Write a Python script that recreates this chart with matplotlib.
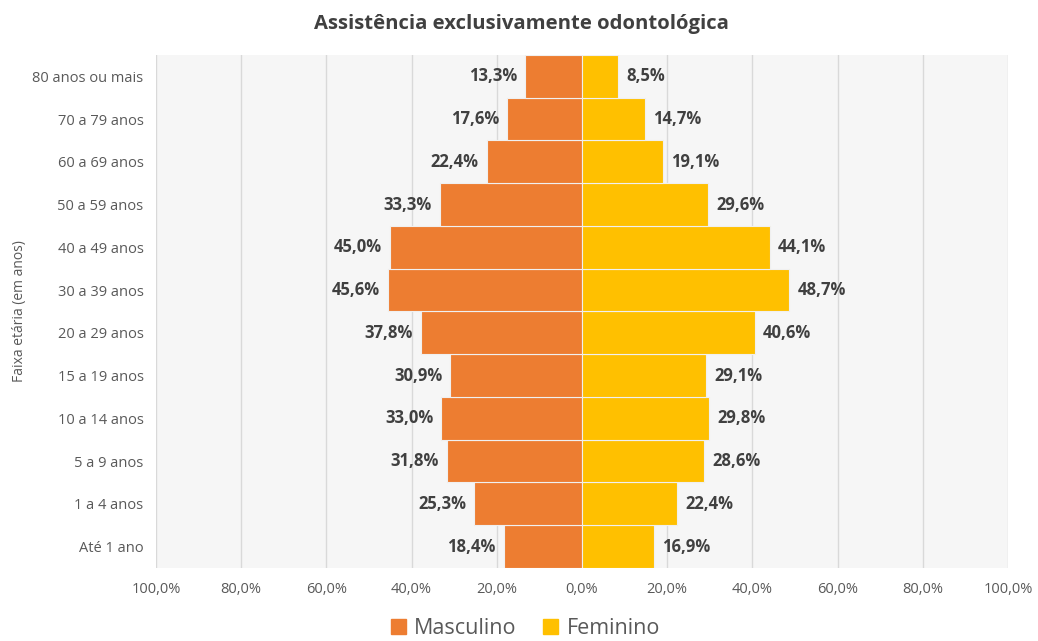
import matplotlib.pyplot as plt
import numpy as np
from matplotlib.patches import Patch

plt.rcParams['font.family'] = ['Open Sans', 'DejaVu Sans']

faixas = ['Até 1 ano', '1 a 4 anos', '5 a 9 anos', '10 a 14 anos', '15 a 19 anos',
          '20 a 29 anos', '30 a 39 anos', '40 a 49 anos', '50 a 59 anos',
          '60 a 69 anos', '70 a 79 anos', '80 anos ou mais']
masculino = [18.4, 25.3, 31.8, 33.0, 30.9, 37.8, 45.6, 45.0, 33.3, 22.4, 17.6, 13.3]
feminino = [16.9, 22.4, 28.6, 29.8, 29.1, 40.6, 48.7, 44.1, 29.6, 19.1, 14.7, 8.5]
xticks = [-100, -80, -60, -40, -20, 0, 20, 40, 60, 80, 100]

cor_m = '#ED7D31'
cor_f = '#FFC000'
cinza = '#595959'

def pct(v):
    return f'{abs(v):.1f}%'.replace('.', ',')

fig = plt.figure(figsize=(10.38, 6.41), dpi=100)
ax = fig.add_axes([0.1503, 0.1139, 0.8208, 0.8003])
ax.set_facecolor('#f6f6f6')

y = np.arange(len(faixas))
ax.barh(y, -np.array(masculino), height=1.0, color=cor_m, edgecolor='#f0f0f0', linewidth=0.8, zorder=3)
ax.barh(y, feminino, height=1.0, color=cor_f, edgecolor='#f0f0f0', linewidth=0.8, zorder=3)

for yi, m, f in zip(y, masculino, feminino):
    ax.text(-m - 1.9, yi, pct(m), ha='right', va='center', fontsize=12,
            fontweight='bold', color='#404040', zorder=4)
    ax.text(f + 1.9, yi, pct(f), ha='left', va='center', fontsize=12,
            fontweight='bold', color='#404040', zorder=4)

ax.set_xlim(-100, 100)
ax.set_ylim(-0.5, len(faixas) - 0.5)
ax.set_xticks(xticks)
ax.set_xticklabels([pct(v) for v in xticks], fontsize=10.5, color=cinza)
ax.set_yticks(y)
ax.set_yticklabels(faixas, fontsize=10.5, color=cinza)
ax.tick_params(axis='x', length=0, pad=10)
ax.tick_params(axis='y', length=0, pad=9)
ax.xaxis.grid(True, color='#d9d9d9', linewidth=1.0, zorder=0)
ax.set_axisbelow(True)
for s in ax.spines.values():
    s.set_visible(False)

ax.set_ylabel('Faixa etária (em anos)', fontsize=10, color=cinza)
ax.yaxis.set_label_coords(-0.151, 0.5)

fig.text(0.502, 0.962, 'Assistência exclusivamente odontológica', ha='center', va='center',
         fontsize=14.6, fontweight='bold', color='#404040')

handles = [Patch(color=cor_m, label='Masculino'), Patch(color=cor_f, label='Feminino')]
fig.legend(handles=handles, loc='center', bbox_to_anchor=(0.506, 0.02), ncol=2,
           frameon=False, fontsize=15.5, handlelength=0.7, handleheight=0.7,
           handletextpad=0.4, columnspacing=1.2, labelcolor=cinza)

fig.savefig('out.png', dpi=100)
